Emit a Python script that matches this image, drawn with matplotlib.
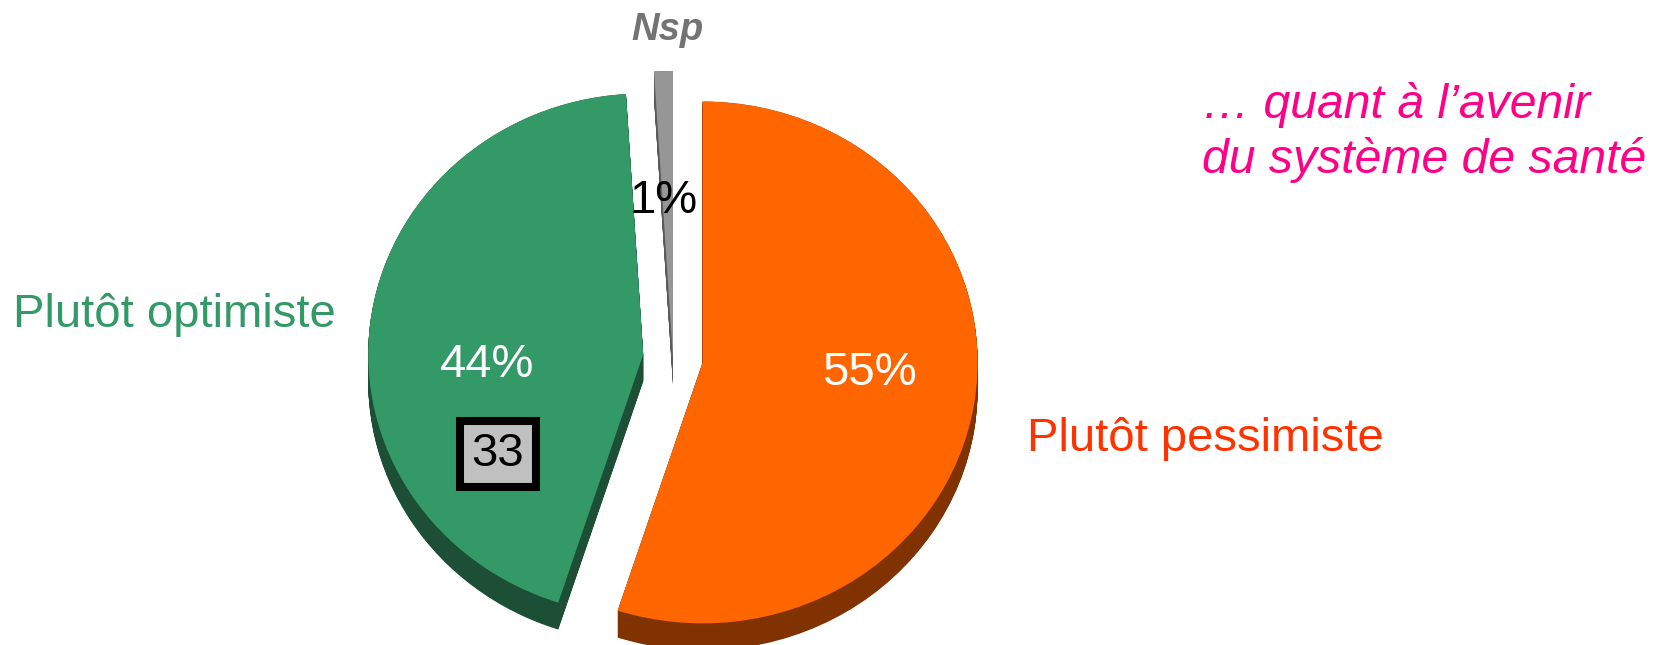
import numpy as np
import matplotlib
matplotlib.use("Agg")
import matplotlib.pyplot as plt

# ---- data ----
categories = ["Plutôt pessimiste", "Plutôt optimiste", "Nsp"]
values = [55, 44, 1]
previous_optimiste = 33
title_lines = ["… quant à l’avenir", "du système de santé"]

top_colors = ["#FF6600", "#339966", "#969696"]
side_colors = ["#803300", "#1C4F35", "#5A5A5A"]
explode = [30, 30, 0]  # offsets in data units

plt.rcParams['font.family'] = ['Liberation Sans', 'DejaVu Sans']

W, H = 1663, 645
K = 1.054  # vertical squash of the pie (x units per y pixel)
fig = plt.figure(figsize=(W / 100, H / 100), dpi=100)
ax = fig.add_axes([0, 0, 1, 1])


def Y(yimg):
    return (H - yimg) * K


cx, cy = 673, Y(358)
R = 275
depth = 27 * K
nsp_scale = 1.10


def draw_pie(center, colors, z):
    wedges, _ = ax.pie(values, explode=explode, colors=colors, startangle=90,
                       counterclock=False, radius=R, center=center, frame=True,
                       wedgeprops=dict(edgecolor='none', linewidth=0))
    wedges[2].set_radius(R * nsp_scale)
    for w in wedges:
        w.set_zorder(z)
    return wedges


# extruded sides
for d in np.linspace(depth, 0, 40):
    draw_pie((cx, cy - d), side_colors, 1)
# top faces
draw_pie((cx, cy), top_colors, 2)

# percentage labels
ax.text(869, Y(385), f"{values[0]}%", color="white", fontsize=34, ha="center", va="baseline", zorder=5)
ax.text(487, Y(377), f"{values[1]}%", color="white", fontsize=34, ha="center", va="baseline", zorder=5)
ax.text(663, Y(213), f"{values[2]}%", color="black", fontsize=34, ha="center", va="baseline", zorder=5)

# previous value box
ax.text(498, Y(466), f"{previous_optimiste}", color="black", fontsize=34, ha="center", va="baseline",
        zorder=6,
        bbox=dict(boxstyle="square,pad=0.24", fc="#C0C0C0", ec="black", lw=5.8))

# category labels
ax.text(13, Y(327), categories[1], color="#339966", fontsize=34, ha="left", va="baseline")
ax.text(1027, Y(451), categories[0], color="#FF3300", fontsize=34, ha="left", va="baseline")
ax.text(667, Y(40), categories[2], color="#737373", fontsize=27.5, fontweight="bold",
        fontstyle="italic", ha="center", va="baseline")

# title
ax.text(1202, Y(118), title_lines[0], color="#FF0088", fontsize=34.7, fontstyle="italic",
        ha="left", va="baseline")
ax.text(1202, Y(173), title_lines[1], color="#FF0088", fontsize=34.7, fontstyle="italic",
        ha="left", va="baseline")

ax.set_aspect('auto')
ax.set_xlim(0, W)
ax.set_ylim(0, H * K)
ax.axis('off')

fig.savefig("out.png", dpi=100, facecolor="white")
